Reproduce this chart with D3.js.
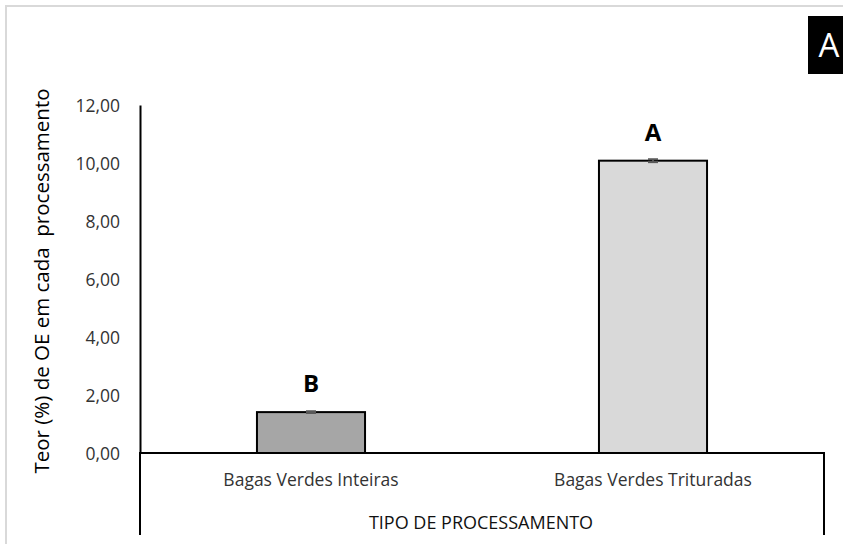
<!DOCTYPE html>
<html>
<head>
<meta charset="utf-8">
<script src="https://cdn.jsdelivr.net/npm/d3@7"></script>
<style>
  body { margin: 0; background: #fff; }
  text { font-family: "Open Sans", "Noto Sans", sans-serif; fill: #000; }
</style>
</head>
<body>
<div id="chart"></div>
<script>
// chart data
const categories = ['Bagas Verdes Inteiras', 'Bagas Verdes Trituradas'];
const values = [1.41, 10.08];
const errors = [0.03, 0.05];
const letters = ['B', 'A'];
const yTicks = [0, 2, 4, 6, 8, 10, 12];
const barColors = ['#a6a6a6', '#d9d9d9'];

const width = 843, height = 544;
const margin = { left: 140, right: 19, top: 105, bottom: 91 };
const plotW = width - margin.left - margin.right;
const plotH = height - margin.top - margin.bottom;

const svg = d3.select('#chart').append('svg')
  .attr('width', width)
  .attr('height', height);

svg.append('rect').attr('width', width).attr('height', height).attr('fill', '#fff');

// outer frame (only top and left edges visible)
svg.append('rect')
  .attr('x', 6).attr('y', 6)
  .attr('width', 900).attr('height', 600)
  .attr('fill', 'none')
  .attr('stroke', '#d9d9d9')
  .attr('stroke-width', 2);

// panel tag
svg.append('rect').attr('x', 808).attr('y', 16).attr('width', 40).attr('height', 58).attr('fill', '#000');
svg.append('text')
  .attr('x', 829).attr('y', 57)
  .attr('text-anchor', 'middle')
  .style('font-size', '33px')
  .style('fill', '#fff')
  .text('A');

const chart = svg.append('g')
  .attr('transform', `translate(${margin.left}, ${margin.top})`);

const xScale = d3.scaleBand()
  .domain(categories)
  .range([0, plotW])
  .paddingInner(0.684)
  .paddingOuter(0.342);
const yScale = d3.scaleLinear().domain([0, 12]).range([plotH, 0]);

// bars
chart.selectAll('.bar')
  .data(values)
  .enter()
  .append('rect')
  .attr('class', 'bar')
  .attr('x', (d, i) => xScale(categories[i]))
  .attr('y', d => yScale(d))
  .attr('width', xScale.bandwidth())
  .attr('height', d => yScale(0) - yScale(d))
  .attr('fill', (d, i) => barColors[i])
  .attr('stroke', '#000')
  .attr('stroke-width', 2);

// error bars
const eb = chart.selectAll('.err')
  .data(values)
  .enter()
  .append('g')
  .attr('class', 'err')
  .attr('transform', (d, i) => `translate(${xScale(categories[i]) + xScale.bandwidth() / 2}, 0)`)
  .attr('stroke', '#595959')
  .attr('stroke-width', 2);
eb.append('line')
  .attr('x1', 0).attr('x2', 0)
  .attr('y1', (d, i) => yScale(d + errors[i]))
  .attr('y2', (d, i) => yScale(d - errors[i]));
eb.append('line')
  .attr('x1', -5).attr('x2', 5)
  .attr('y1', (d, i) => yScale(d + errors[i]))
  .attr('y2', (d, i) => yScale(d + errors[i]));
eb.append('line')
  .attr('x1', -5).attr('x2', 5)
  .attr('y1', (d, i) => yScale(d - errors[i]))
  .attr('y2', (d, i) => yScale(d - errors[i]));

// significance letters
chart.selectAll('.letter')
  .data(values)
  .enter()
  .append('text')
  .attr('class', 'letter')
  .attr('x', (d, i) => xScale(categories[i]) + xScale.bandwidth() / 2)
  .attr('y', d => yScale(d) - 20)
  .attr('text-anchor', 'middle')
  .style('font-size', '24px')
  .style('font-weight', 'bold')
  .text((d, i) => letters[i]);

// y axis
const yAxis = chart.append('g')
  .attr('class', 'axis axis-y')
  .call(d3.axisLeft(yScale).tickValues(yTicks).tickSize(0).tickPadding(20)
    .tickFormat(d => d3.format('.2f')(d).replace('.', ',')));
yAxis.select('.domain').attr('stroke', '#000').attr('stroke-width', 2);
yAxis.selectAll('text')
  .style('font-size', '17.5px')
  .style('fill', '#333')
  .attr('dy', '0.35em');

// x axis with its extended frame
const xAxis = chart.append('g')
  .attr('class', 'axis axis-x')
  .attr('transform', `translate(0, ${plotH})`)
  .call(d3.axisBottom(xScale).tickSize(0).tickPadding(21));
xAxis.select('.domain').remove();
xAxis.selectAll('text')
  .style('font-size', '17.5px')
  .style('fill', '#333');

chart.append('path')
  .attr('d', `M0,${plotH + 82}V${plotH}H${plotW}V${plotH + 82}`)
  .attr('fill', 'none')
  .attr('stroke', '#000')
  .attr('stroke-width', 2);

// axis titles
chart.append('text')
  .attr('x', plotW / 2 - 1)
  .attr('y', plotH + 76)
  .attr('text-anchor', 'middle')
  .style('font-size', '18px')
  .style('fill', '#111')
  .text('TIPO DE PROCESSAMENTO');

svg.append('text')
  .attr('transform', 'translate(49, 281) rotate(-90)')
  .attr('text-anchor', 'middle')
  .style('font-size', '20.5px')
  .style('white-space', 'pre')
  .attr('xml:space', 'preserve')
  .text('Teor (%) de OE em cada  processamento');
</script>
</body>
</html>
